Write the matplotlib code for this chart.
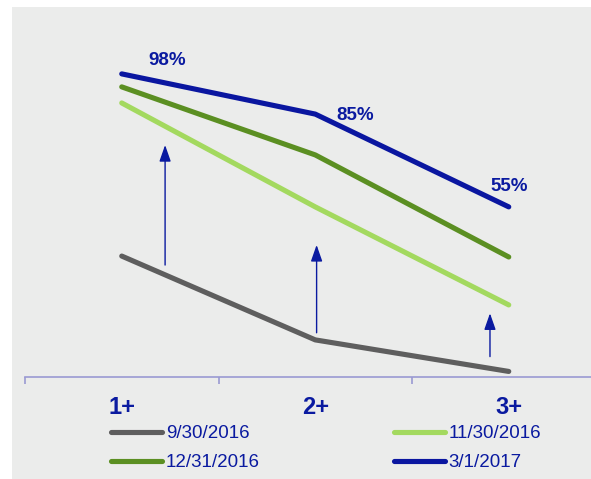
import matplotlib.pyplot as plt
from matplotlib.patches import Rectangle

plt.rcParams["font.family"] = ["Liberation Sans", "DejaVu Sans"]

categories = ["1+", "2+", "3+"]
series_names = ["9/30/2016", "11/30/2016", "12/31/2016", "3/1/2017"]
sep_2016 = [39.1, 12.0, 1.8]
nov_2016 = [88.6, 55.0, 23.3]
dec_2016 = [93.8, 71.8, 38.8]
mar_2017 = [98.0, 85.0, 55.0]
value_labels = ["98%", "85%", "55%"]

# arrows showing the lift between snapshots: (x, y_start, y_end)
arrow_x = [1.224, 2.007, 2.903]
arrow_from = [36.2, 14.3, 6.6]
arrow_to = [75.0, 42.7, 20.6]

colors = {
    "9/30/2016": "#5e5e5e",
    "11/30/2016": "#a3d95f",
    "12/31/2016": "#5b8f22",
    "3/1/2017": "#0a16a0",
}
text_blue = "#0a1aa0"

fig = plt.figure(figsize=(5.91, 4.79), dpi=100)
fig.patches.append(
    Rectangle((12 / 591, 0), 1, 1 - 7 / 479, transform=fig.transFigure,
              facecolor="#ebeceb", edgecolor="none", zorder=-5)
)

ax = fig.add_axes([25 / 591, 102 / 479, 566 / 591, 370 / 479])
ax.set_zorder(2)
ax.patch.set_alpha(0)
x = [1, 2, 3]

for name, vals in zip(series_names, [sep_2016, nov_2016, dec_2016, mar_2017]):
    ax.plot(x, vals, color=colors[name], lw=3.7, solid_capstyle="round",
            solid_joinstyle="round", label=name)

for xa, y0, y1 in zip(arrow_x, arrow_from, arrow_to):
    ax.annotate("", xy=(xa, y1), xytext=(xa, y0),
                arrowprops=dict(arrowstyle="-|>,head_length=1.0,head_width=0.35",
                                color=text_blue, lw=1.0, shrinkA=0, shrinkB=0))

# percentage labels for the latest snapshot
label_pos = [(1.237, 102.2), (2.205, 84.7), (3.004, 61.6)]
for (lx, ly), txt in zip(label_pos, value_labels):
    ax.text(lx, ly, txt, ha="center", va="center", fontsize=13.5,
            fontweight="bold", color=text_blue)

ax.set_xlim(0.5, 0.5 + 566 / 193.5)
ax.set_ylim(0, 370 / 3.093)
for s in ["top", "right", "left"]:
    ax.spines[s].set_visible(False)
ax.spines["bottom"].set_color("#9a9ad2")
ax.spines["bottom"].set_linewidth(1.2)
ax.set_yticks([])
ax.set_xticks(x)
ax.set_xticklabels(categories, fontsize=17, fontweight="bold", color=text_blue)
ax.tick_params(axis="x", which="major", length=0, pad=14)
ax.set_xticks([0.5, 1.5, 2.5], minor=True)
ax.tick_params(axis="x", which="minor", length=5, width=1.2, color="#9a9ad2")

handles, labels = ax.get_legend_handles_labels()
order = [0, 2, 1, 3]
fig.legend([handles[i] for i in order], [labels[i] for i in order],
           ncol=2, loc="upper left", bbox_to_anchor=(111 / 591, 1 - 425 / 479),
           frameon=False, fontsize=13.5, labelcolor=text_blue, handlelength=2.72,
           handletextpad=0.2, columnspacing=7.15, labelspacing=0.65, borderpad=0,
           borderaxespad=0)

fig.savefig("out.png", dpi=100)
